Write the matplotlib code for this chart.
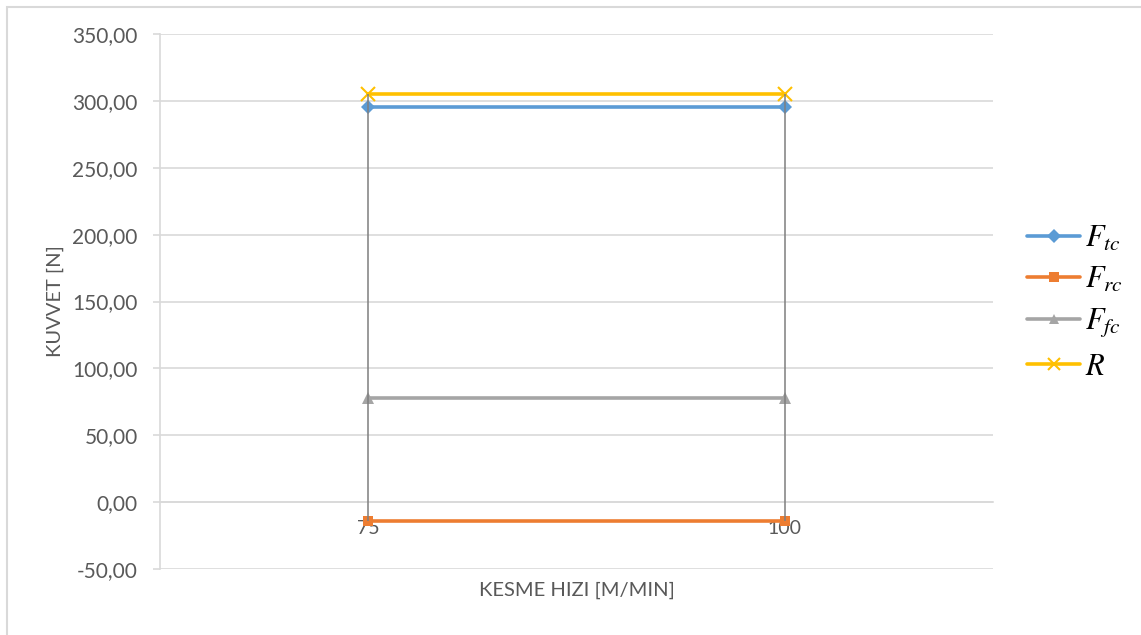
import matplotlib.pyplot as plt
from matplotlib.patches import Rectangle
from matplotlib.ticker import FuncFormatter

plt.rcParams['font.family'] = ['Lato', 'DejaVu Sans']
plt.rcParams['mathtext.fontset'] = 'stix'

speeds = ['75', '100']
F_tc = [295.6, 295.6]
F_rc = [-13.8, -13.8]
F_fc = [77.5, 77.5]
R = [305.4, 305.4]

series = [
    (F_tc, r'$F_{tc}$', '#5B9BD5', 'D', 7.5),
    (F_rc, r'$F_{rc}$', '#ED7D31', 's', 7.5),
    (F_fc, r'$F_{fc}$', '#A5A5A5', '^', 8.5),
    (R, r'$R$', '#FFC000', 'x', 10),
]

W, H = 1141, 635
fig = plt.figure(figsize=(W / 100, H / 100), dpi=100)
fig.patches.append(Rectangle((7 / W, -0.01), 1.02, 1 - 7 / H + 0.01,
                             transform=fig.transFigure, fill=False,
                             edgecolor='#d9d9d9', lw=1.5))

ax = fig.add_axes([160 / W, 66 / H, 833 / W, 535 / H])
x = list(range(len(speeds)))

for vals, label, color, marker, ms in series:
    ax.plot(x, vals, color=color, lw=2.6, marker=marker, ms=ms,
            mew=1.5 if marker == 'x' else 0, mec=color, mfc=color,
            label=label, zorder=3, solid_capstyle='round')

# high-low lines per category
all_vals = [s[0] for s in series]
for i in x:
    col = [v[i] for v in all_vals]
    ax.vlines(i, min(col), max(col), color='#7f7f7f', lw=1.1, zorder=4)

ax.set_xlim(-0.5, 1.5)
ax.set_ylim(-50, 350)
ax.set_yticks(range(-50, 351, 50))
ax.yaxis.set_major_formatter(FuncFormatter(lambda v, p: f'{v:.2f}'.replace('.', ',')))
ax.grid(axis='y', color='#d9d9d9', lw=1.2)
ax.set_axisbelow(True)

for s in ['top', 'right']:
    ax.spines[s].set_visible(False)
ax.spines['left'].set_color('#d9d9d9')
ax.spines['left'].set_linewidth(1.2)
ax.spines['bottom'].set_position(('data', 0))
ax.spines['bottom'].set_color('#d9d9d9')
ax.spines['bottom'].set_linewidth(1.2)

ax.tick_params(axis='y', colors='#d9d9d9', labelcolor='#595959',
               labelsize=15, length=5, width=1.2, pad=11)
ax.set_xticks(x)
ax.set_xticklabels(speeds)
ax.tick_params(axis='x', length=0, labelcolor='#595959', labelsize=14, pad=13)

ax.text(0.5, -0.039, 'KESME HIZI [M/MIN]', transform=ax.transAxes,
        ha='center', va='center', fontsize=14.5, color='#595959')
ax.text(-0.126, 0.5, 'KUVVET [N]', transform=ax.transAxes, rotation=90,
        ha='center', va='center', fontsize=14.5, color='#595959')

ax.legend(loc='center left', bbox_to_anchor=(1.041, 0.50), frameon=False,
          fontsize=22, handlelength=1.73, handletextpad=0.15,
          labelspacing=0.4, borderpad=0, borderaxespad=0, markerscale=0.9)

fig.savefig('out.png', dpi=100)
